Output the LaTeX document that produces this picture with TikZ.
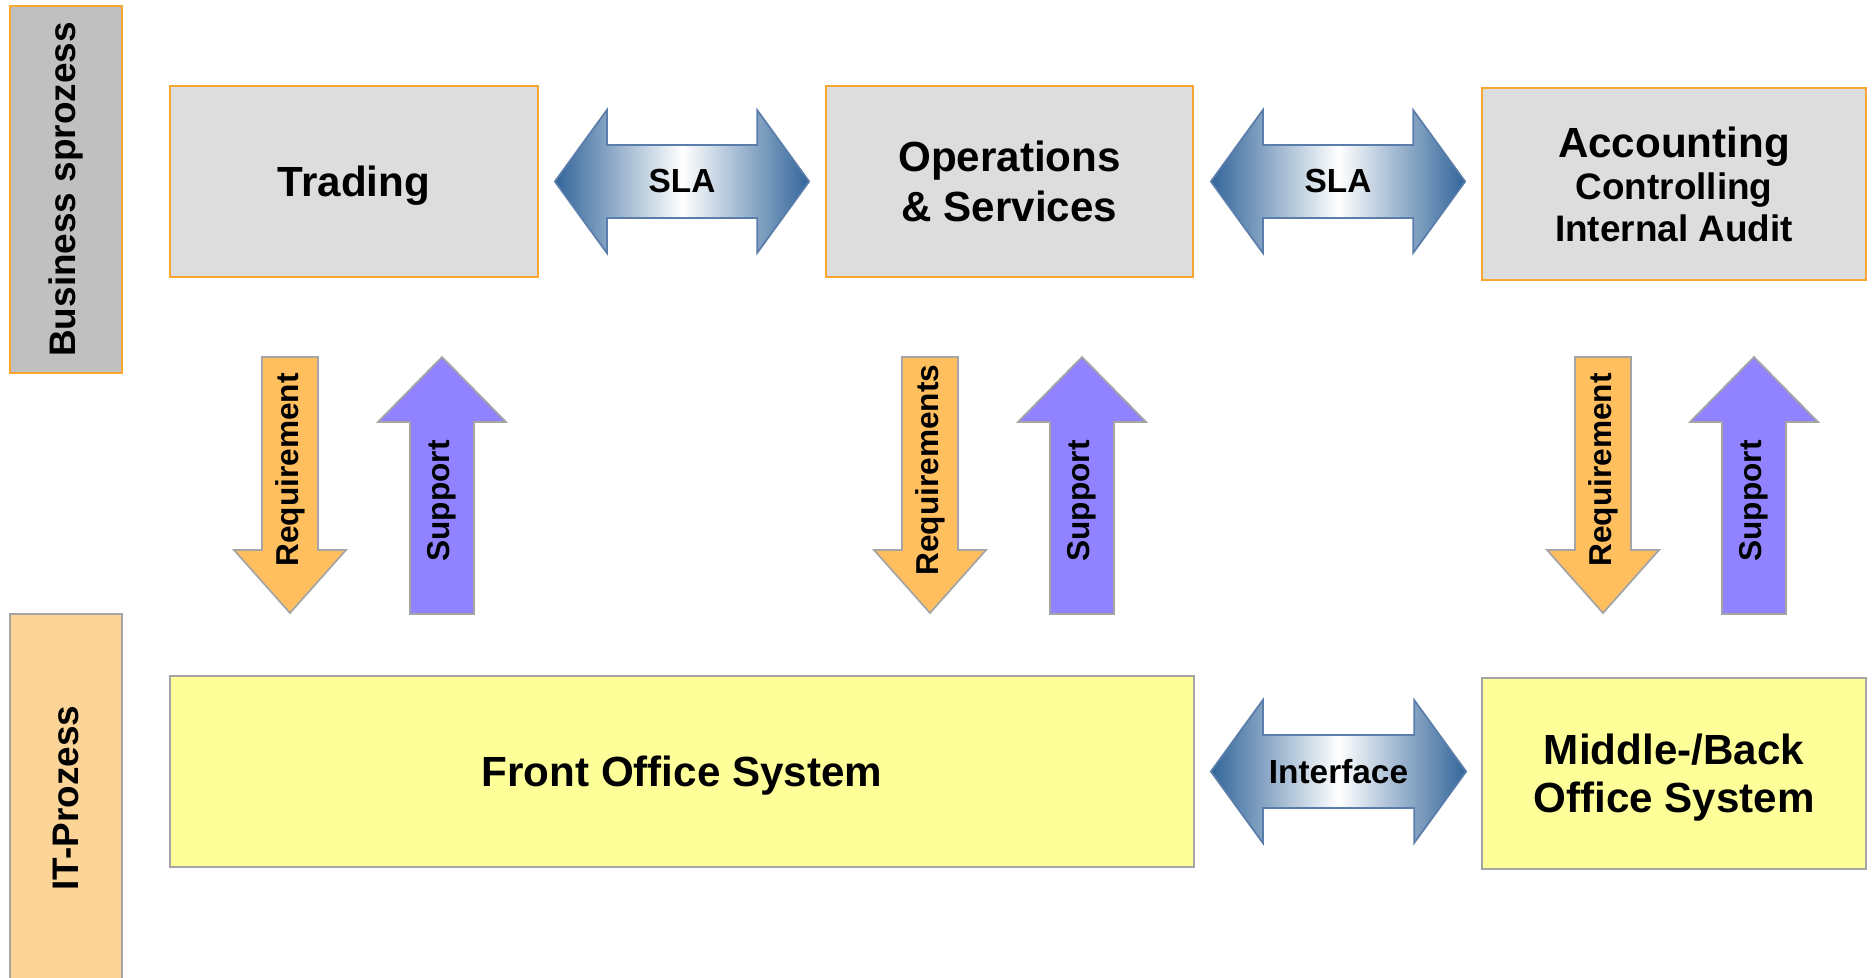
\documentclass[tikz,border=0pt]{standalone}
\usepackage{fontspec}
\setmainfont{Liberation Sans}
\usepackage{xcolor}
\definecolor{laneGray}{HTML}{C0C0C0}
\definecolor{laneOrange}{HTML}{FDD497}
\definecolor{procGray}{HTML}{DDDDDD}
\definecolor{procEdge}{HTML}{F9A635}
\definecolor{sysYellow}{HTML}{FFFF99}
\definecolor{sysEdge}{HTML}{A5A5A5}
\definecolor{reqOrange}{HTML}{FFBF5F}
\definecolor{supViolet}{HTML}{9183FF}
\definecolor{slaBlue}{HTML}{32659A}
\definecolor{slaEdge}{HTML}{5A7DAA}
\usepackage{tikz}
\usetikzlibrary{calc}

\tikzset{
  lanebox/.style={draw, line width=0.5pt, inner sep=0pt, font=\fontsize{10.5}{12}\selectfont\bfseries},
  procbox/.style={draw=procEdge, fill=procGray, line width=0.5pt, align=center, inner sep=0pt,
    text depth=0pt, font=\fontsize{12}{14.3}\selectfont\bfseries},
  sysbox/.style={draw=sysEdge, fill=sysYellow, line width=0.5pt, align=center, inner sep=0pt,
    text depth=0pt, font=\fontsize{12}{13.6}\selectfont\bfseries},
  reqarrow/.style={draw=sysEdge, fill=reqOrange, line width=0.5pt},
  suparrow/.style={draw=sysEdge, fill=supViolet, line width=0.5pt},
  dblarrow/.style={draw=slaEdge, line width=0.5pt, left color=slaBlue, right color=slaBlue, middle color=white},
  armlabel/.style={font=\fontsize{9}{11}\selectfont\bfseries, inner sep=0pt}
}

\begin{document}
\begin{tikzpicture}[x=0.1mm, y=-0.1mm]
  \useasboundingbox (0,0) rectangle (1875,978);
  % the two lanes on the left
  \node[lanebox, draw=procEdge, fill=laneGray, rotate=90, minimum width=36.7mm, minimum height=11.2mm]
    (bizlane) at (66,189.5) {Business sprozess};
  \node[lanebox, draw=sysEdge, fill=laneOrange, rotate=90, minimum width=36.8mm, minimum height=11.2mm]
    (itlane) at (66,798) {IT-Prozess};
  % business processes (top row)
  \node[procbox, minimum width=36.8mm, minimum height=19.1mm] (trading) at (354,181.5) {Trading};
  \node[procbox, minimum width=36.7mm, minimum height=19.1mm] (ops) at (1009.5,181.5)
    {Operations\\\& Services};
  \node[procbox, font=\fontsize{10.5}{12}\selectfont\bfseries, minimum width=38.4mm, minimum height=19.2mm]
    (acc) at (1674,184) {{\fontsize{12}{12}\selectfont Accounting}\\Controlling\\Internal Audit};
  % IT systems (bottom row)
  \node[sysbox, minimum width=102.4mm, minimum height=19.1mm] (front) at (682,771.5) {Front Office System};
  \node[sysbox, minimum width=38.4mm, minimum height=19.1mm] (midback) at (1674,773.5)
    {Middle-/Back\\Office System};
  % tips of the double arrows, kept clear of the boxes
  \coordinate (sla1l) at ($(trading.east)+(16,0)$);
  \coordinate (sla1r) at ($(ops.west)+(-16,0)$);
  \coordinate (sla2l) at ($(ops.east)+(17,0)$);
  \coordinate (sla2r) at ($(acc.west |- ops.east)+(-16,0)$);
  \coordinate (ifcl)  at ($(front.east)+(16,0)$);
  \coordinate (ifcr)  at ($(midback.west |- front.east)+(-15,0)$);
  \foreach \l/\r in {sla1l/sla1r, sla2l/sla2r, ifcl/ifcr}
    \draw[dblarrow] (\l) -- ($(\l)+(52,-71.5)$) -- ($(\l)+(52,-36.5)$) -- ($(\r)+(-52,-36.5)$)
      -- ($(\r)+(-52,-71.5)$) -- (\r) -- ($(\r)+(-52,71.5)$) -- ($(\r)+(-52,36.5)$)
      -- ($(\l)+(52,36.5)$) -- ($(\l)+(52,71.5)$) -- cycle;
  \node[armlabel, font=\fontsize{9.5}{11}\selectfont\bfseries] (sla1) at ($(sla1l)!0.5!(sla1r)$) {SLA};
  \node[armlabel, font=\fontsize{9.5}{11}\selectfont\bfseries] (sla2) at ($(sla2l)!0.5!(sla2r)$) {SLA};
  \node[armlabel, font=\fontsize{9.5}{11}\selectfont\bfseries] (ifc) at ($(ifcl)!0.5!(ifcr)$) {Interface};
  % requirement arrows point down, support arrows point up
  \foreach \x/\txt/\n in {290/Requirement/1, 930/Requirements/2, 1603/Requirement/3} {
    \draw[reqarrow] (\x-28,357) -- (\x+28,357) -- (\x+28,550) -- (\x+56,550) -- (\x,613)
      -- (\x-56,550) -- (\x-28,550) -- cycle;
    \node[armlabel, rotate=90] (req\n) at (\x,470) {\txt};
  }
  \foreach \x/\n in {442/1, 1082/2, 1754/3} {
    \draw[suparrow] (\x-32,614) -- (\x+32,614) -- (\x+32,422) -- (\x+64,422) -- (\x,357)
      -- (\x-64,422) -- (\x-32,422) -- cycle;
    \node[armlabel, rotate=90] (sup\n) at (\x,501) {Support};
  }
\end{tikzpicture}
\end{document}
